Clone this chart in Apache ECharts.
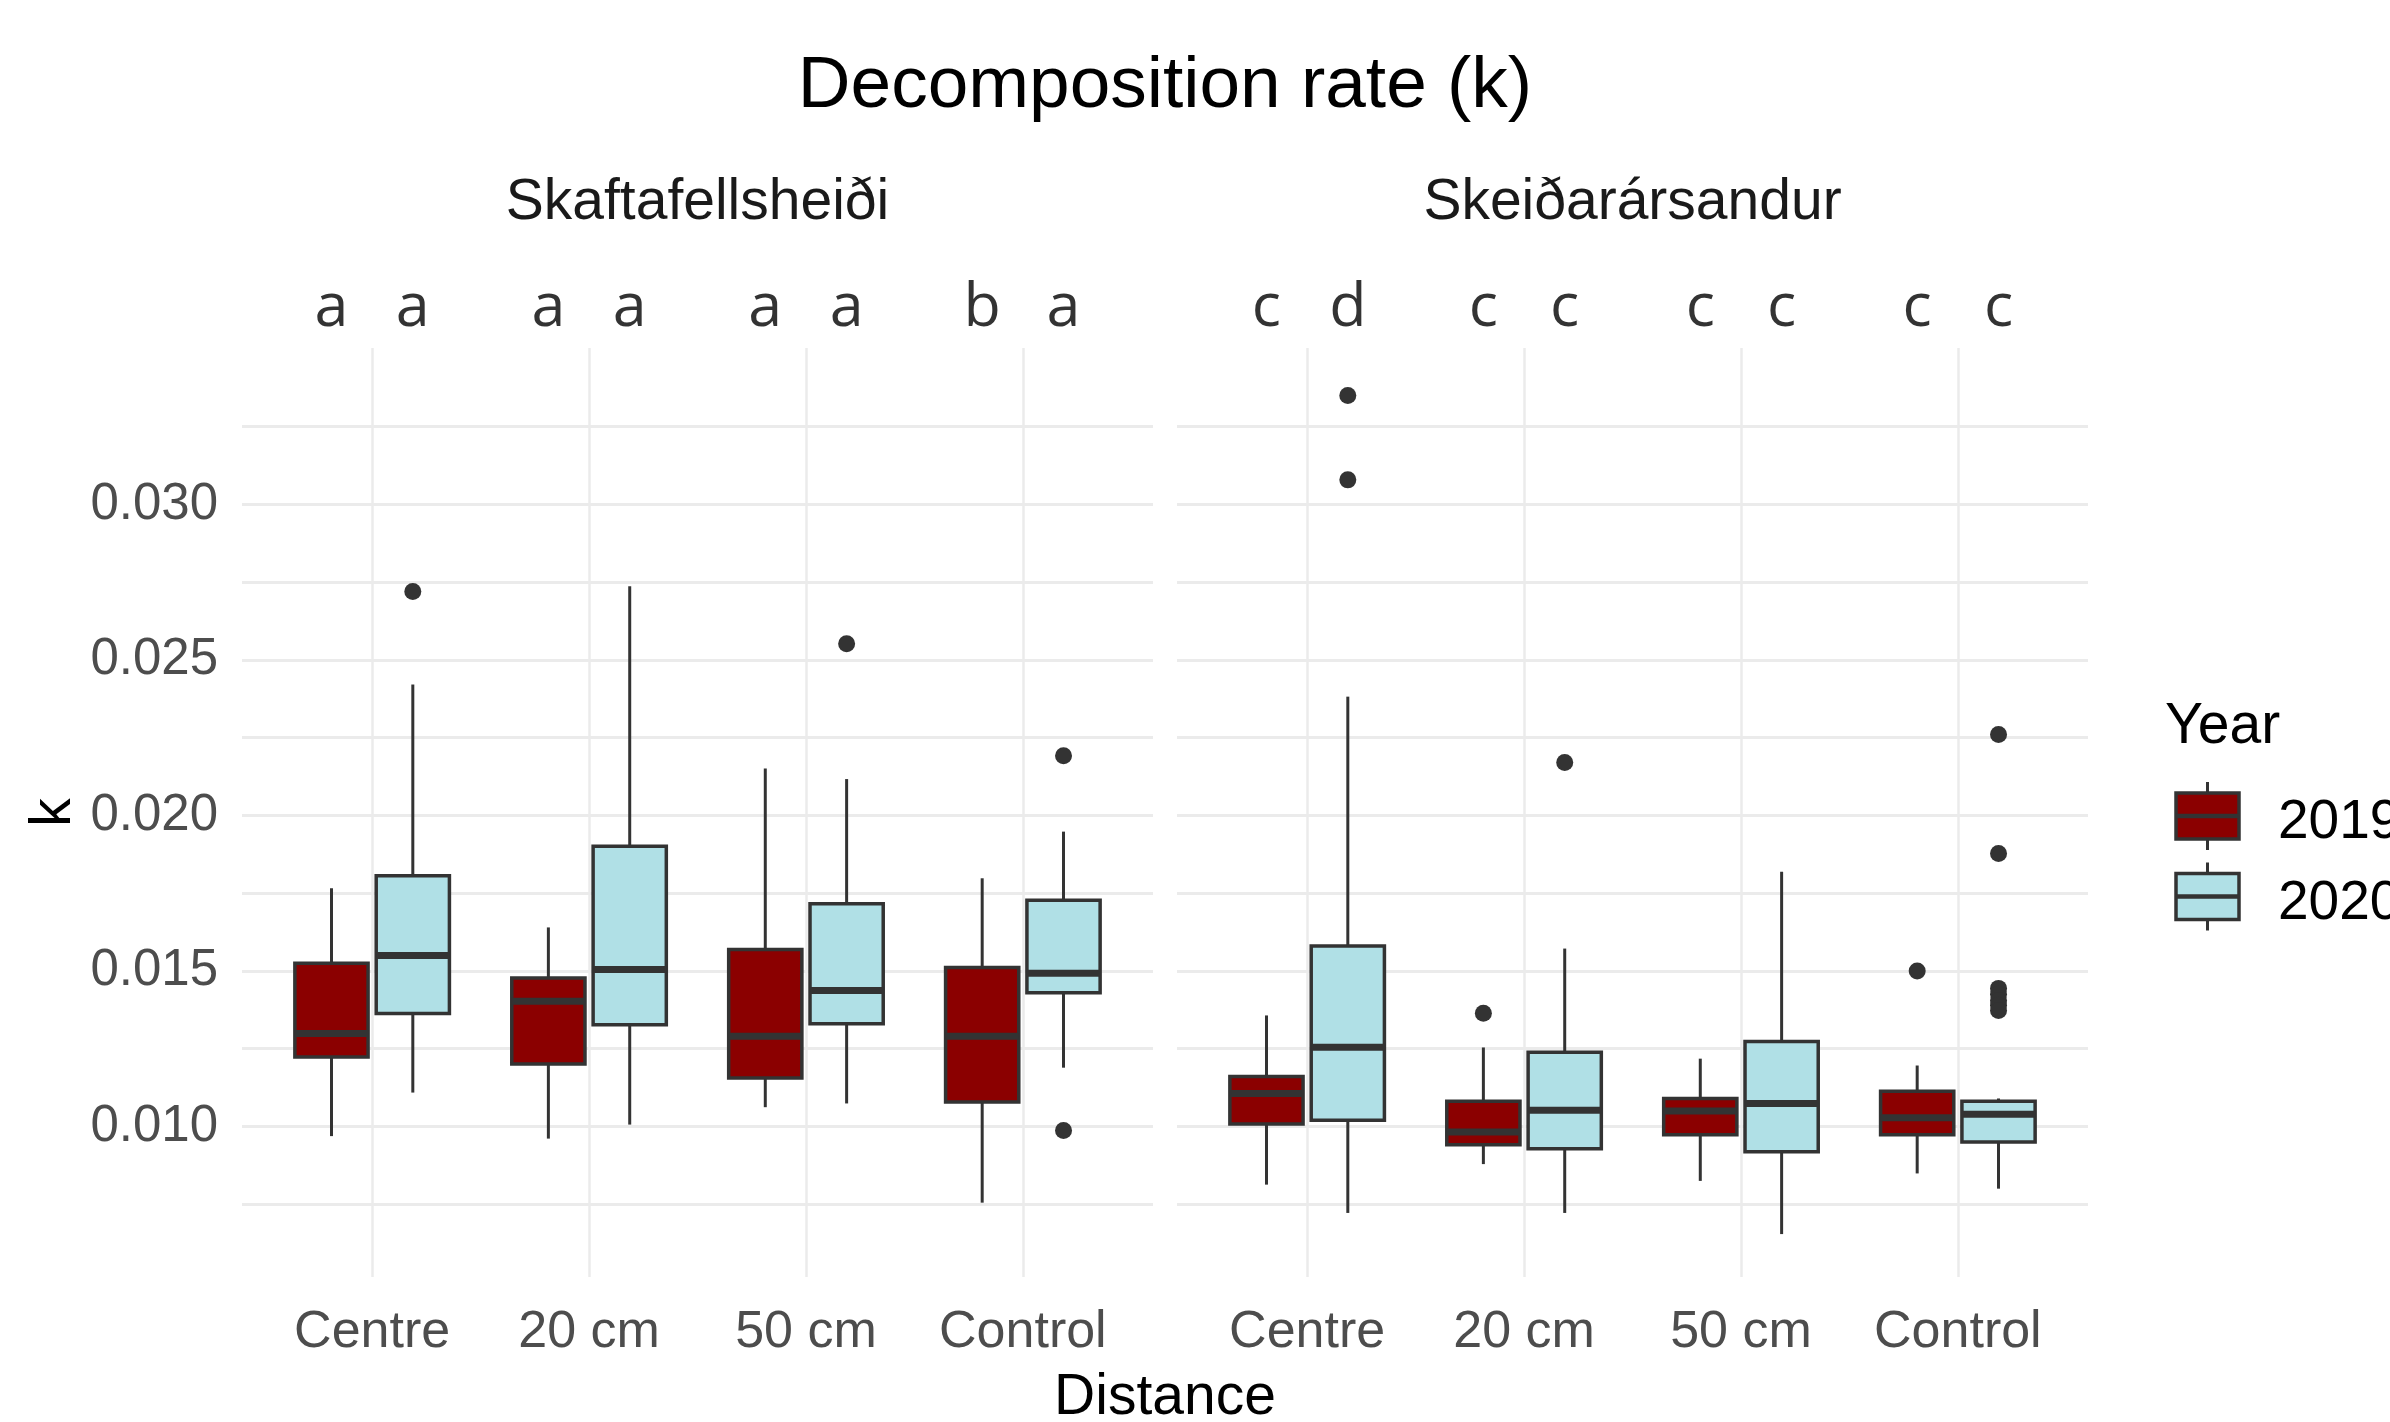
<!DOCTYPE html>
<html><head><meta charset="utf-8">
<script src="https://cdn.jsdelivr.net/npm/echarts@6/dist/echarts.min.js"></script>
<style>html,body{margin:0;padding:0;background:#fff}#c{width:2390px;height:1422px}</style>
</head><body><div id="c"></div>
<script>
// ---------- data ----------
const categories = ['Centre', '20 cm', '50 cm', 'Control'];
const sites = ['Skaftafellsheiði', 'Skeiðarársandur'];
const years = ['2019', '2020'];
const yTicks = [0.010, 0.015, 0.020, 0.025, 0.030];
const yGrid = [0.0075, 0.010, 0.0125, 0.015, 0.0175, 0.020, 0.0225, 0.025, 0.0275, 0.030, 0.0325];

// [lower whisker, Q1, median, Q3, upper whisker] per category
const skaft2019 = [
  [0.00969, 0.01223, 0.01299, 0.01525, 0.01766],
  [0.00961, 0.01201, 0.01403, 0.01477, 0.01640],
  [0.01062, 0.01156, 0.01290, 0.01569, 0.02151],
  [0.00755, 0.01079, 0.01290, 0.01511, 0.01798]
];
const skaft2020 = [
  [0.01109, 0.01363, 0.01550, 0.01806, 0.02421],
  [0.01006, 0.01327, 0.01505, 0.01901, 0.02737],
  [0.01074, 0.01330, 0.01437, 0.01716, 0.02117],
  [0.01189, 0.01430, 0.01493, 0.01727, 0.01948]
];
const skei2019 = [
  [0.00813, 0.01008, 0.01106, 0.01161, 0.01357],
  [0.00879, 0.00941, 0.00982, 0.01081, 0.01254],
  [0.00825, 0.00973, 0.01050, 0.01090, 0.01218],
  [0.00849, 0.00973, 0.01028, 0.01113, 0.01196]
];
const skei2020 = [
  [0.00722, 0.01020, 0.01255, 0.01580, 0.02382],
  [0.00722, 0.00928, 0.01052, 0.01239, 0.01572],
  [0.00654, 0.00919, 0.01074, 0.01273, 0.01819],
  [0.00800, 0.00950, 0.01039, 0.01081, 0.01090]
];
// outliers: [category index, value]
const skaft2019Out = [];
const skaft2020Out = [[0, 0.02720], [2, 0.02552], [3, 0.02192], [3, 0.00987]];
const skei2019Out = [[1, 0.01364], [3, 0.01500]];
const skei2020Out = [[0, 0.03350], [0, 0.03079], [1, 0.02170], [3, 0.02260], [3, 0.01878],
                     [3, 0.01444], [3, 0.01425], [3, 0.01405], [3, 0.01390], [3, 0.01373]];
// compact letter display
const skaftLetters2019 = ['a', 'a', 'a', 'b'];
const skaftLetters2020 = ['a', 'a', 'a', 'a'];
const skeiLetters2019 = ['c', 'c', 'c', 'c'];
const skeiLetters2020 = ['d', 'c', 'c', 'c'];

// ---------- styling ----------
const FONT = '"Liberation Sans", Arial, sans-serif';
const yearColors = ['#8B0000', '#B0E0E6'];
const LINE = '#333333';
const GRID = '#EBEBEB';
const OFFSET = [-0.1875, 0.1875];
const HALF = 0.16875;
const Y_MIN = 0.00516, Y_MAX = 0.03503;

const panels = [
  { box: [skaft2019, skaft2020], out: [skaft2019Out, skaft2020Out], letters: [skaftLetters2019, skaftLetters2020] },
  { box: [skei2019, skei2020], out: [skei2019Out, skei2020Out], letters: [skeiLetters2019, skeiLetters2020] }
];

const gridLefts = [242, 1177];
const grids = gridLefts.map(l => ({ left: l, top: 348, width: 911, height: 929, containLabel: false }));

const xAxes = grids.map((g, i) => ({
  type: 'value', gridIndex: i, min: 0.4, max: 4.6,
  axisLine: { show: false },
  axisTick: { show: false, customValues: [1, 2, 3, 4] },
  axisLabel: {
    customValues: [1, 2, 3, 4],
    formatter: v => categories[Math.round(v) - 1],
    fontFamily: FONT, fontSize: 52, lineHeight: 52, color: '#4D4D4D', margin: 30
  },
  splitLine: { show: true, lineStyle: { color: GRID, width: 2.5 } }
}));
const yAxes = grids.map((g, i) => ({
  type: 'value', gridIndex: i, min: Y_MIN, max: Y_MAX,
  axisLine: { show: false },
  axisTick: { show: false, customValues: yGrid },
  axisLabel: {
    show: i === 0, customValues: yTicks,
    formatter: v => v.toFixed(3),
    fontFamily: FONT, fontSize: 51, lineHeight: 55, color: '#4D4D4D', margin: 24,
    padding: [3, 0, 0, 0]
  },
  splitLine: { show: true, lineStyle: { color: GRID, width: 3 } }
}));

function boxRenderer(yi) {
  return function (params, api) {
    const x = api.value(0) + 1 + OFFSET[yi];
    const pMin = api.coord([x, api.value(1)]);
    const pQ1 = api.coord([x - HALF, api.value(2)]);
    const pMed = api.coord([x - HALF, api.value(3)]);
    const pQ3 = api.coord([x + HALF, api.value(4)]);
    const pMax = api.coord([x, api.value(5)]);
    const xl = pQ1[0], xr = pQ3[0];
    return {
      type: 'group',
      children: [
        { type: 'line', shape: { x1: pMin[0], y1: pMin[1], x2: pMin[0], y2: pQ1[1] }, style: { stroke: LINE, lineWidth: 3 } },
        { type: 'line', shape: { x1: pMax[0], y1: pQ3[1], x2: pMax[0], y2: pMax[1] }, style: { stroke: LINE, lineWidth: 3 } },
        { type: 'rect', shape: { x: xl, y: pQ3[1], width: xr - xl, height: pQ1[1] - pQ3[1] },
          style: { fill: yearColors[yi], stroke: LINE, lineWidth: 3.5 } },
        { type: 'line', shape: { x1: xl, y1: pMed[1], x2: xr, y2: pMed[1] }, style: { stroke: LINE, lineWidth: 7 } }
      ]
    };
  };
}

const series = [];
panels.forEach((p, pi) => {
  years.forEach((yr, yi) => {
    series.push({
      type: 'custom', name: yr, xAxisIndex: pi, yAxisIndex: pi,
      renderItem: boxRenderer(yi), silent: true,
      data: p.box[yi].map((d, ci) => [ci].concat(d))
    });
    series.push({
      type: 'scatter', xAxisIndex: pi, yAxisIndex: pi, silent: true,
      symbolSize: 17, itemStyle: { color: LINE, opacity: 1 },
      data: p.out[yi].map(o => [o[0] + 1 + OFFSET[yi], o[1]])
    });
    series.push({
      type: 'scatter', xAxisIndex: pi, yAxisIndex: pi, silent: true, clip: false,
      symbolSize: 1, itemStyle: { color: 'rgba(0,0,0,0)' },
      label: { show: true, position: 'top', distance: 8, formatter: '{b}',
               fontFamily: '"Open Sans", sans-serif', fontSize: 61, lineHeight: 61, color: '#000' },
      data: p.letters[yi].map((l, ci) => ({ name: l, value: [ci + 1 + OFFSET[yi], Y_MAX] }))
    });
  });
});

// legend drawn as graphic keys
const legendItems = years.map((yr, yi) => {
  const cy = [816, 896.5][yi];
  return [
    { type: 'line', shape: { x1: 2207.5, y1: cy - 34, x2: 2207.5, y2: cy + 34 }, style: { stroke: LINE, lineWidth: 3 } },
    { type: 'rect', shape: { x: 2176, y: cy - 23, width: 63, height: 46 }, style: { fill: yearColors[yi], stroke: LINE, lineWidth: 3.5 } },
    { type: 'line', shape: { x1: 2176, y1: cy, x2: 2239, y2: cy }, style: { stroke: LINE, lineWidth: 4.5 } },
    { type: 'text', x: 2278, y: cy + 7, style: { text: yr, font: '55px ' + FONT, fill: '#000', textAlign: 'left', textVerticalAlign: 'middle' } }
  ];
}).flat();

const graphics = [
  { type: 'text', x: 1165, y: 87, style: { text: 'Decomposition rate (k)', font: '73px ' + FONT, fill: '#000', textAlign: 'center', textVerticalAlign: 'middle' } },
  { type: 'text', x: 697.5, y: 203, style: { text: sites[0], font: '57px ' + FONT, fill: '#1A1A1A', textAlign: 'center', textVerticalAlign: 'middle' } },
  { type: 'text', x: 1632.5, y: 203, style: { text: sites[1], font: '57px ' + FONT, fill: '#1A1A1A', textAlign: 'center', textVerticalAlign: 'middle' } },
  { type: 'text', x: 1165, y: 1398, style: { text: 'Distance', font: '57px ' + FONT, fill: '#000', textAlign: 'center', textVerticalAlign: 'middle' } },
  { type: 'text', x: 54, y: 812.5, rotation: Math.PI / 2, style: { text: 'k', font: '57px ' + FONT, fill: '#000', textAlign: 'center', textVerticalAlign: 'middle' } },
  { type: 'text', x: 2165, y: 727, style: { text: 'Year', font: '57px ' + FONT, fill: '#000', textAlign: 'left', textVerticalAlign: 'middle' } }
].concat(legendItems);

const chart = echarts.init(document.getElementById('c'), null, { renderer: 'canvas' });
chart.setOption({
  animation: false,
  backgroundColor: '#ffffff',
  grid: grids,
  xAxis: xAxes,
  yAxis: yAxes,
  series: series,
  graphic: graphics
});
</script>
</body></html>
